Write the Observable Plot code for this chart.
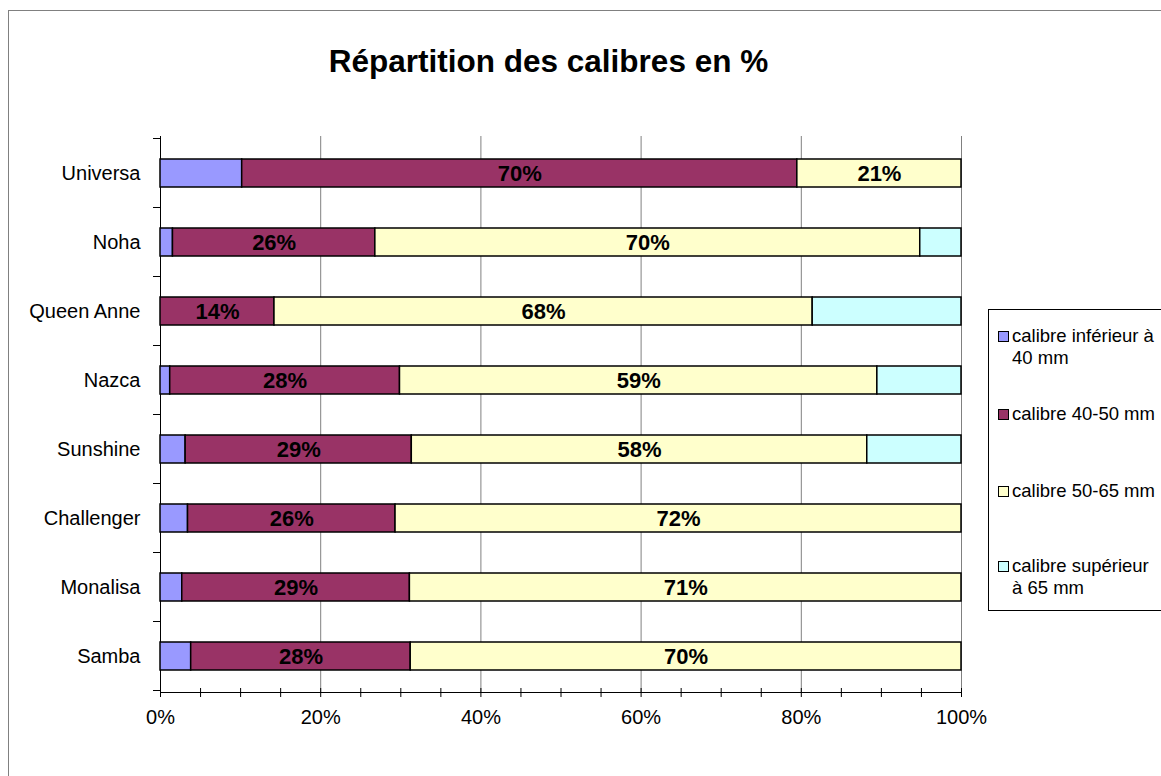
<!DOCTYPE html>
<html><head><meta charset="utf-8">
<script src="https://cdn.jsdelivr.net/npm/d3@7"></script>
<script src="https://cdn.jsdelivr.net/npm/@observablehq/plot@0.6"></script>
<style>
body{margin:0;background:#fff;font-family:"Liberation Sans",Arial,sans-serif;}
#wrap{position:relative;width:1161px;height:776px;overflow:hidden;background:#fff;}
#frame{position:absolute;left:8px;top:10px;width:1200px;height:820px;border:1px solid #808080;box-sizing:border-box;}
#title{position:absolute;left:0;width:1097px;top:43px;text-align:center;font-weight:bold;font-size:31.5px;line-height:36px;color:#000;}
#chart{position:absolute;left:0;top:0;}
#legend{position:absolute;left:988px;top:309px;width:220px;height:302px;border:1px solid #000;box-sizing:border-box;background:#fff;}
.item{position:absolute;left:0;font-size:18.5px;line-height:22px;white-space:nowrap;color:#000;}
.sw{position:absolute;left:9px;top:6px;width:9px;height:9px;border:1.5px solid #000;box-sizing:content-box;}
.lt{position:absolute;left:23px;top:0;}
</style></head>
<body>
<div id="wrap">
  <div id="frame"></div>
  <div id="chart"></div>
  <div id="title">Répartition des calibres en %</div>
  <div id="legend"></div>
</div>
<script>
// Data (raw values; the chart normalises each bar to 100%)
const varieties = ["Universa","Noha","Queen Anne","Nazca","Sunshine","Challenger","Monalisa","Samba"];
const calibres = ["calibre inférieur à 40 mm","calibre 40-50 mm","calibre 50-65 mm","calibre supérieur à 65 mm"];
const legendLines = [["calibre inférieur à","40 mm"],["calibre 40-50 mm"],["calibre 50-65 mm"],["calibre supérieur","à 65 mm"]];
const inf40  = [10.3, 1.6, 0,    1.2,  3.2,  3.5,  2.8,  3.9];
const c4050  = [70,   26,  14.4, 28.4, 28.8, 26.4, 29.3, 27.9];
const c5065  = [20.7, 70,  68,   59,   58,   72,   71,   70];
const sup65  = [0,    5.3, 18.8, 10.4, 12.0, 0,    0,    0];
const colors = ["#9999FF","#993366","#FFFFCC","#CCFFFF"];
const labeled = [false, true, true, false];
const xTicks = [0, 0.2, 0.4, 0.6, 0.8, 1];
const minorTicks = d3.range(0, 21).map(i => i / 20);

const series = [inf40, c4050, c5065, sup65];
const data = [];
varieties.forEach((v, i) => {
  series.forEach((s, j) => {
    if (s[i] > 0) data.push({variety: v, calibre: calibres[j], value: s[i], labeled: labeled[j]});
  });
});

function yBoundaryTicks(index, scales, values, dims) {
  const y = scales.y;
  const step = y.step ? y.step() : (dims.height - dims.marginTop - dims.marginBottom) / varieties.length;
  const bw = y.bandwidth ? y.bandwidth() : 0;
  const g = d3.create("svg:g");
  const xs = dims.marginLeft;
  const ys = [];
  varieties.forEach((v, i) => {
    const c = y(v) + bw / 2;
    if (i === 0) ys.push(c - step / 2);
    ys.push(c + step / 2);
  });
  ys.forEach(yy => {
    g.append("line").attr("x1", xs - 7).attr("x2", xs).attr("y1", yy).attr("y2", yy)
      .attr("stroke", "#000").attr("stroke-width", 1);
  });
  return g.node();
}

const chart = Plot.plot({
  width: 1161,
  height: 776,
  marginLeft: 160,
  marginRight: 200,
  marginTop: 136,
  marginBottom: 84,
  style: {fontFamily: "'Liberation Sans', Arial, sans-serif", fontSize: "20px", color: "#000", background: "transparent"},
  x: {domain: [0, 1], label: null},
  y: {domain: varieties, paddingInner: 0.6, paddingOuter: 0.3, label: null},
  color: {domain: calibres, range: colors},
  marks: [
    Plot.gridX(xTicks.slice(1), {stroke: "#808080", strokeOpacity: 1, strokeWidth: 1}),
    Plot.tickX(minorTicks, {x: d => d, insetTop: 552, insetBottom: -5, stroke: "#000"}),
    Plot.ruleX([0], {stroke: "#000", strokeWidth: 1, insetBottom: -5}),
    Plot.frame({anchor: "bottom", stroke: "#000"}),
    Plot.axisX({ticks: xTicks, tickFormat: d3.format(".0%"), tickSize: 0, tickPadding: 17, fontSize: 20, label: null}),
    Plot.axisY({tickSize: 0, tickPadding: 20, fontSize: 20, label: null}),
    yBoundaryTicks,
    Plot.barX(data, Plot.stackX({x: "value", y: "variety", fill: "calibre", order: calibres, offset: "normalize", stroke: "#000", strokeWidth: 1.5})),
    Plot.text(data, Plot.stackX({x: "value", y: "variety", z: "calibre", order: calibres, offset: "normalize",
      text: d => d.labeled ? Math.round(d.value) + "%" : null, fontWeight: "bold", fontSize: 22, fill: "#000"}))
  ]
});
document.getElementById("chart").appendChild(chart);

// Legend
const legend = document.getElementById("legend");
const tops = [15, 93, 170, 245];
calibres.forEach((c, j) => {
  const it = document.createElement("div");
  it.className = "item";
  it.style.top = tops[j] + "px";
  const sw = document.createElement("div");
  sw.className = "sw";
  sw.style.background = colors[j];
  const lt = document.createElement("div");
  lt.className = "lt";
  lt.innerHTML = legendLines[j].join("<br>");
  it.appendChild(sw); it.appendChild(lt);
  legend.appendChild(it);
});
</script>
</body></html>
